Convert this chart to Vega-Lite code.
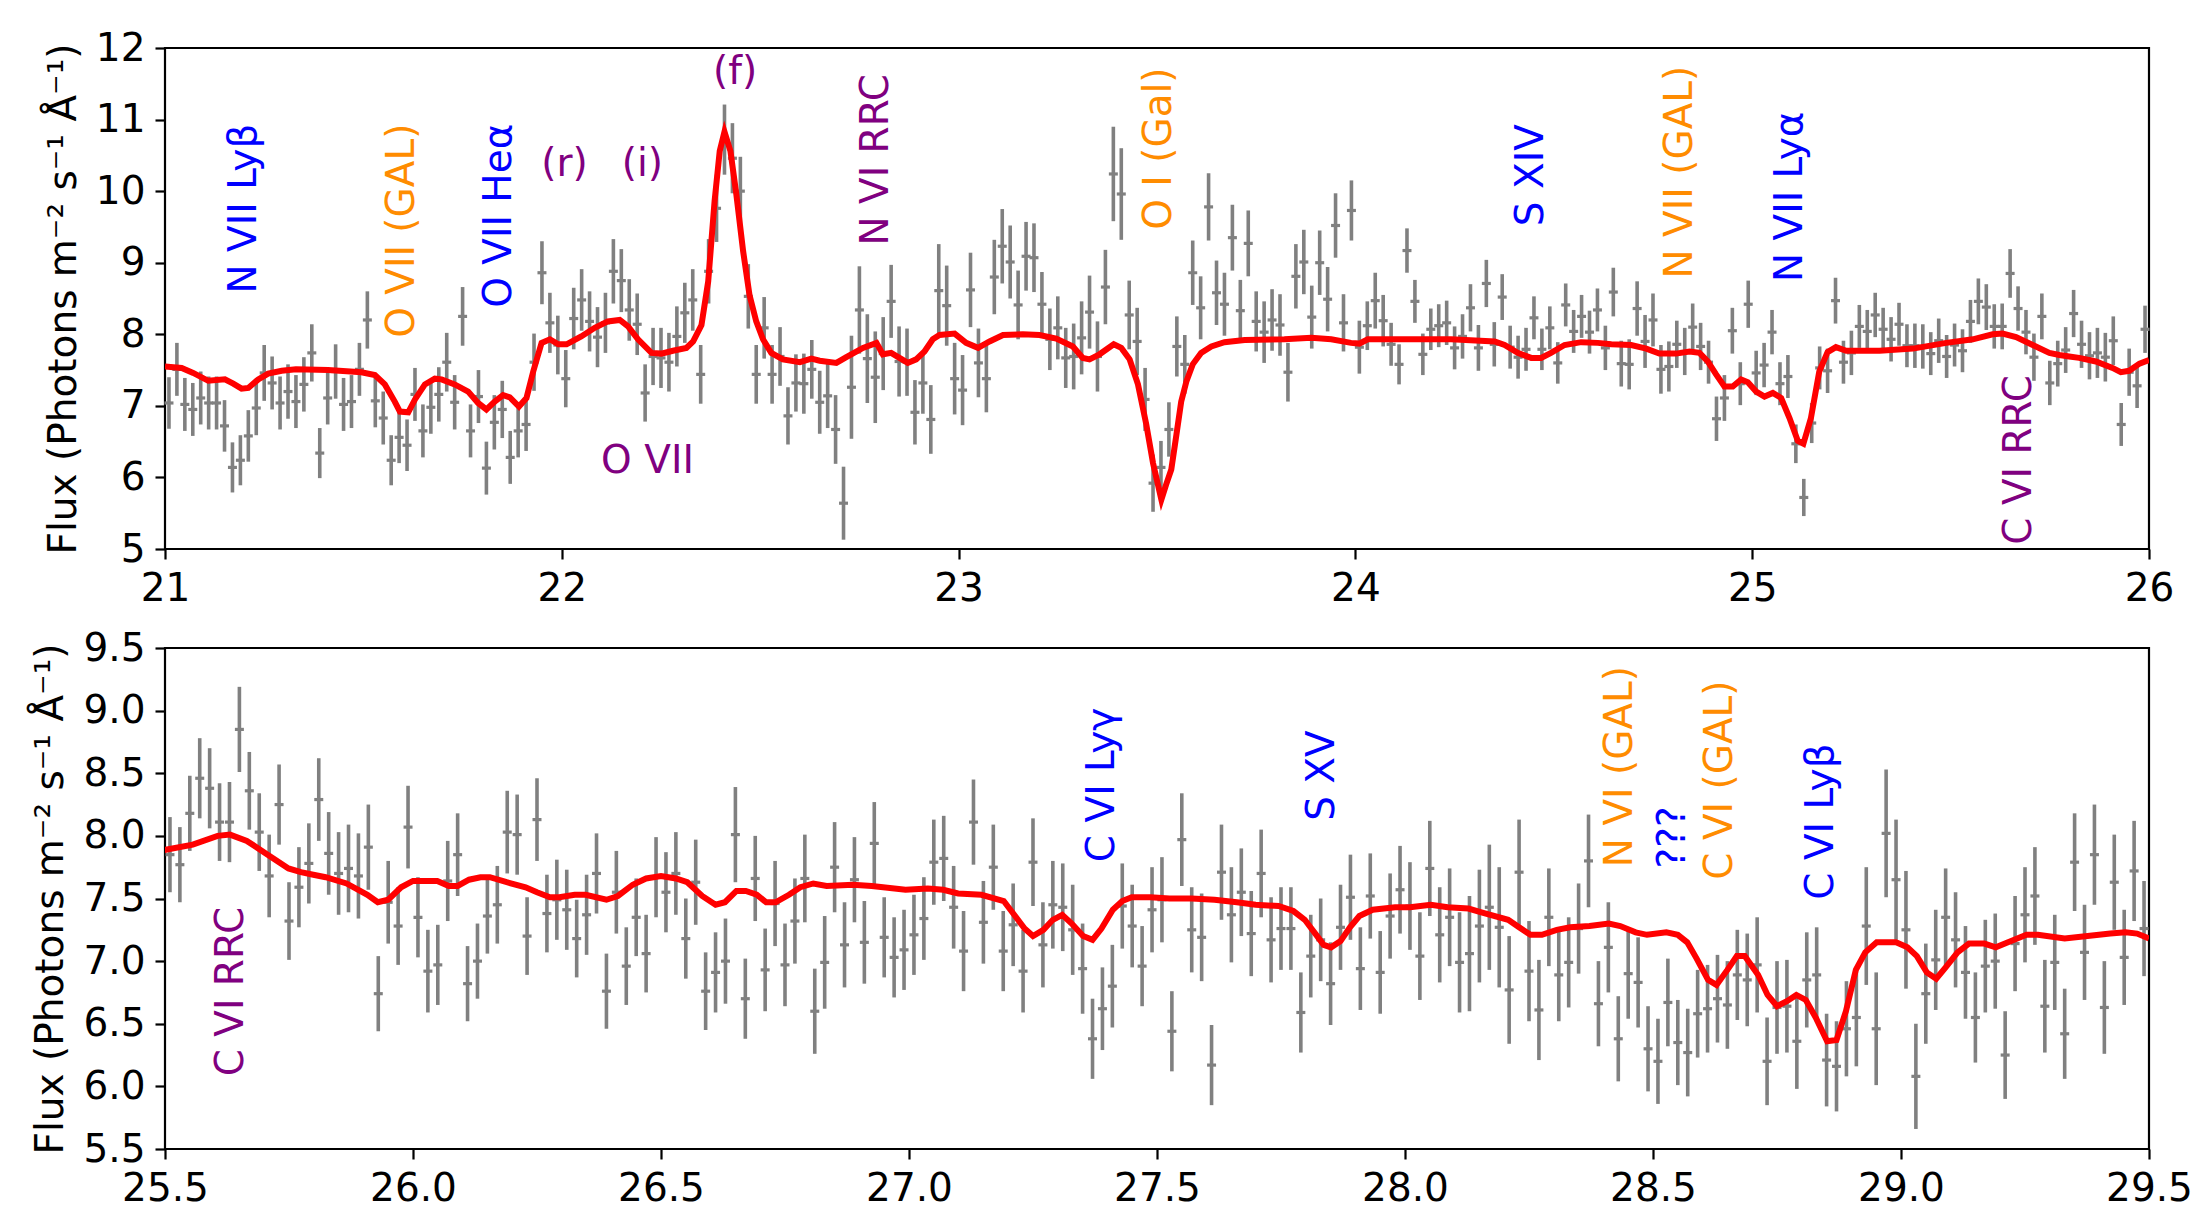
{
  "$schema": "https://vega.github.io/schema/vega-lite/v6.json",
  "background": "white",
  "padding": {"left": 30, "top": 23, "right": 5, "bottom": 5},
  "config": {
    "font": "DejaVu Sans",
    "view": {"stroke": "black", "strokeWidth": 2.2},
    "axis": {
      "grid": false, "domain": false,
      "tickColor": "black", "tickWidth": 2.2, "tickSize": 10,
      "labelFontSize": 39, "labelColor": "black", "labelPadding": 10,
      "labelFlush": false, "labelOverlap": false,
      "titleFontSize": 39, "titleFontWeight": "normal", "titleColor": "black", "titlePadding": 12
    }
  },
  "datasets": {
    "spec": [
      {"w":21.01,"f":7.04,"e":0.36},{"w":21.03,"f":7.51,"e":0.37},{"w":21.05,"f":7.02,"e":0.37},{"w":21.07,"f":6.95,"e":0.37},{"w":21.09,"f":7.11,"e":0.37},
      {"w":21.11,"f":7.04,"e":0.37},{"w":21.13,"f":7.04,"e":0.37},{"w":21.15,"f":6.72,"e":0.36},{"w":21.17,"f":6.14,"e":0.35},{"w":21.19,"f":6.24,"e":0.35},
      {"w":21.21,"f":6.58,"e":0.36},{"w":21.23,"f":6.97,"e":0.38},{"w":21.25,"f":7.46,"e":0.39},{"w":21.27,"f":7.32,"e":0.37},{"w":21.29,"f":7.04,"e":0.37},
      {"w":21.31,"f":7.20,"e":0.38},{"w":21.33,"f":7.06,"e":0.37},{"w":21.35,"f":7.30,"e":0.38},{"w":21.37,"f":7.74,"e":0.40},{"w":21.39,"f":6.34,"e":0.35},
      {"w":21.41,"f":7.11,"e":0.37},{"w":21.43,"f":7.48,"e":0.38},{"w":21.45,"f":7.02,"e":0.37},{"w":21.47,"f":7.06,"e":0.37},{"w":21.49,"f":7.51,"e":0.37},
      {"w":21.51,"f":8.20,"e":0.40},{"w":21.53,"f":7.07,"e":0.37},{"w":21.55,"f":6.83,"e":0.37},{"w":21.57,"f":6.24,"e":0.35},{"w":21.59,"f":6.56,"e":0.36},
      {"w":21.61,"f":6.45,"e":0.36},{"w":21.63,"f":7.16,"e":0.37},{"w":21.65,"f":6.65,"e":0.37},{"w":21.67,"f":6.98,"e":0.37},{"w":21.69,"f":7.16,"e":0.38},
      {"w":21.71,"f":7.61,"e":0.41},{"w":21.73,"f":7.05,"e":0.38},{"w":21.75,"f":8.25,"e":0.41},{"w":21.77,"f":6.65,"e":0.37},{"w":21.79,"f":7.13,"e":0.37},
      {"w":21.81,"f":6.13,"e":0.37},{"w":21.83,"f":6.77,"e":0.38},{"w":21.85,"f":6.95,"e":0.40},{"w":21.87,"f":6.28,"e":0.37},{"w":21.89,"f":6.65,"e":0.37},
      {"w":21.91,"f":6.74,"e":0.37},{"w":21.93,"f":7.61,"e":0.40},{"w":21.95,"f":8.86,"e":0.44},{"w":21.97,"f":8.16,"e":0.42},{"w":21.99,"f":7.85,"e":0.41},
      {"w":22.01,"f":7.38,"e":0.40},{"w":22.03,"f":8.22,"e":0.43},{"w":22.05,"f":8.48,"e":0.43},{"w":22.07,"f":8.18,"e":0.42},{"w":22.09,"f":7.96,"e":0.42},
      {"w":22.11,"f":8.16,"e":0.42},{"w":22.13,"f":8.88,"e":0.45},{"w":22.15,"f":8.75,"e":0.44},{"w":22.17,"f":8.34,"e":0.43},{"w":22.19,"f":8.14,"e":0.43},
      {"w":22.21,"f":7.18,"e":0.40},{"w":22.23,"f":7.69,"e":0.40},{"w":22.25,"f":7.67,"e":0.42},{"w":22.27,"f":7.61,"e":0.41},{"w":22.29,"f":7.97,"e":0.42},
      {"w":22.31,"f":8.30,"e":0.42},{"w":22.33,"f":8.48,"e":0.43},{"w":22.35,"f":7.44,"e":0.41},{"w":22.37,"f":8.88,"e":0.45},{"w":22.39,"f":9.76,"e":0.47},
      {"w":22.41,"f":10.72,"e":0.49},{"w":22.43,"f":10.46,"e":0.49},{"w":22.45,"f":10.00,"e":0.48},{"w":22.47,"f":8.53,"e":0.45},{"w":22.49,"f":7.44,"e":0.41},
      {"w":22.51,"f":8.09,"e":0.43},{"w":22.53,"f":7.44,"e":0.41},{"w":22.55,"f":7.69,"e":0.41},{"w":22.57,"f":6.86,"e":0.40},{"w":22.59,"f":7.32,"e":0.40},
      {"w":22.61,"f":7.31,"e":0.42},{"w":22.63,"f":7.51,"e":0.41},{"w":22.65,"f":7.05,"e":0.44},{"w":22.67,"f":7.14,"e":0.45},{"w":22.69,"f":6.67,"e":0.48},
      {"w":22.71,"f":5.64,"e":0.51},{"w":22.73,"f":7.26,"e":0.72},{"w":22.75,"f":8.34,"e":0.61},{"w":22.77,"f":7.66,"e":0.62},{"w":22.79,"f":7.40,"e":0.64},
      {"w":22.81,"f":7.73,"e":0.51},{"w":22.83,"f":8.46,"e":0.51},{"w":22.85,"f":7.62,"e":0.49},{"w":22.87,"f":7.61,"e":0.47},{"w":22.89,"f":6.91,"e":0.45},
      {"w":22.91,"f":7.32,"e":0.43},{"w":22.93,"f":6.81,"e":0.48},{"w":22.95,"f":8.61,"e":0.65},{"w":22.97,"f":8.40,"e":0.56},{"w":22.99,"f":7.38,"e":0.50},
      {"w":23.01,"f":7.22,"e":0.49},{"w":23.03,"f":8.62,"e":0.52},{"w":23.05,"f":7.60,"e":0.48},{"w":23.07,"f":7.38,"e":0.47},{"w":23.09,"f":8.80,"e":0.52},
      {"w":23.11,"f":9.23,"e":0.52},{"w":23.13,"f":9.01,"e":0.51},{"w":23.15,"f":8.41,"e":0.48},{"w":23.17,"f":9.09,"e":0.48},{"w":23.19,"f":9.07,"e":0.48},
      {"w":23.21,"f":8.42,"e":0.45},{"w":23.23,"f":7.93,"e":0.43},{"w":23.25,"f":8.09,"e":0.44},{"w":23.27,"f":7.67,"e":0.42},{"w":23.29,"f":7.69,"e":0.46},
      {"w":23.31,"f":7.95,"e":0.51},{"w":23.33,"f":8.31,"e":0.51},{"w":23.35,"f":7.69,"e":0.49},{"w":23.37,"f":8.66,"e":0.52},{"w":23.39,"f":10.24,"e":0.66},
      {"w":23.41,"f":9.96,"e":0.64},{"w":23.43,"f":8.27,"e":0.48},{"w":23.45,"f":7.90,"e":0.47},{"w":23.47,"f":7.09,"e":0.44},{"w":23.49,"f":5.92,"e":0.40},
      {"w":23.51,"f":6.14,"e":0.37},{"w":23.53,"f":6.67,"e":0.38},{"w":23.55,"f":7.83,"e":0.42},{"w":23.57,"f":7.58,"e":0.41},{"w":23.59,"f":8.86,"e":0.45},
      {"w":23.61,"f":8.37,"e":0.44},{"w":23.63,"f":9.78,"e":0.47},{"w":23.65,"f":8.58,"e":0.45},{"w":23.67,"f":8.42,"e":0.44},{"w":23.69,"f":9.35,"e":0.46},
      {"w":23.71,"f":8.33,"e":0.43},{"w":23.73,"f":9.27,"e":0.46},{"w":23.75,"f":8.18,"e":0.42},{"w":23.77,"f":8.03,"e":0.43},{"w":23.79,"f":8.20,"e":0.43},
      {"w":23.81,"f":8.13,"e":0.43},{"w":23.83,"f":7.47,"e":0.41},{"w":23.85,"f":8.81,"e":0.45},{"w":23.87,"f":9.01,"e":0.45},{"w":23.89,"f":8.24,"e":0.44},
      {"w":23.91,"f":9.00,"e":0.45},{"w":23.93,"f":8.49,"e":0.45},{"w":23.95,"f":9.52,"e":0.45},{"w":23.97,"f":8.16,"e":0.40},{"w":23.99,"f":9.73,"e":0.42},
      {"w":24.01,"f":7.82,"e":0.37},{"w":24.03,"f":8.12,"e":0.34},{"w":24.05,"f":8.47,"e":0.39},{"w":24.07,"f":8.19,"e":0.36},{"w":24.09,"f":7.86,"e":0.30},
      {"w":24.11,"f":7.58,"e":0.28},{"w":24.13,"f":9.17,"e":0.31},{"w":24.15,"f":8.46,"e":0.30},{"w":24.17,"f":7.72,"e":0.29},{"w":24.19,"f":8.07,"e":0.29},
      {"w":24.21,"f":8.12,"e":0.30},{"w":24.23,"f":8.16,"e":0.31},{"w":24.25,"f":7.81,"e":0.30},{"w":24.27,"f":7.97,"e":0.31},{"w":24.29,"f":8.37,"e":0.33},
      {"w":24.31,"f":7.81,"e":0.32},{"w":24.33,"f":8.71,"e":0.33},{"w":24.35,"f":7.86,"e":0.31},{"w":24.37,"f":8.52,"e":0.32},{"w":24.39,"f":7.82,"e":0.30},
      {"w":24.41,"f":7.68,"e":0.30},{"w":24.43,"f":7.79,"e":0.30},{"w":24.45,"f":8.23,"e":0.30},{"w":24.47,"f":7.79,"e":0.29},{"w":24.49,"f":8.09,"e":0.30},
      {"w":24.51,"f":7.60,"e":0.29},{"w":24.53,"f":8.41,"e":0.30},{"w":24.55,"f":8.04,"e":0.30},{"w":24.57,"f":8.25,"e":0.30},{"w":24.59,"f":8.03,"e":0.30},
      {"w":24.61,"f":8.34,"e":0.30},{"w":24.63,"f":7.81,"e":0.31},{"w":24.65,"f":8.59,"e":0.34},{"w":24.67,"f":7.59,"e":0.32},{"w":24.69,"f":7.58,"e":0.35},
      {"w":24.71,"f":8.36,"e":0.38},{"w":24.73,"f":7.90,"e":0.37},{"w":24.75,"f":8.20,"e":0.37},{"w":24.77,"f":7.51,"e":0.34},{"w":24.79,"f":7.55,"e":0.35},
      {"w":24.81,"f":7.86,"e":0.33},{"w":24.83,"f":7.76,"e":0.33},{"w":24.85,"f":8.10,"e":0.33},{"w":24.87,"f":7.83,"e":0.33},{"w":24.89,"f":7.61,"e":0.30},
      {"w":24.91,"f":6.82,"e":0.31},{"w":24.93,"f":7.11,"e":0.32},{"w":24.95,"f":8.05,"e":0.32},{"w":24.97,"f":7.31,"e":0.30},{"w":24.99,"f":8.42,"e":0.33},
      {"w":25.01,"f":7.46,"e":0.31},{"w":25.03,"f":7.57,"e":0.31},{"w":25.05,"f":8.03,"e":0.31},{"w":25.07,"f":7.31,"e":0.30},{"w":25.09,"f":7.41,"e":0.30},
      {"w":25.11,"f":6.47,"e":0.27},{"w":25.13,"f":5.72,"e":0.26},{"w":25.15,"f":6.76,"e":0.28},{"w":25.17,"f":7.53,"e":0.30},{"w":25.19,"f":7.49,"e":0.31},
      {"w":25.21,"f":8.47,"e":0.32},{"w":25.23,"f":7.61,"e":0.30},{"w":25.25,"f":7.74,"e":0.31},{"w":25.27,"f":8.11,"e":0.30},{"w":25.29,"f":8.04,"e":0.30},
      {"w":25.31,"f":8.27,"e":0.31},{"w":25.33,"f":8.07,"e":0.30},{"w":25.35,"f":7.93,"e":0.31},{"w":25.37,"f":8.14,"e":0.30},{"w":25.39,"f":7.84,"e":0.30},
      {"w":25.41,"f":7.84,"e":0.31},{"w":25.43,"f":7.83,"e":0.31},{"w":25.45,"f":7.73,"e":0.30},{"w":25.47,"f":7.91,"e":0.31},{"w":25.49,"f":7.69,"e":0.30},
      {"w":25.51,"f":7.85,"e":0.30},{"w":25.53,"f":7.77,"e":0.30},{"w":25.55,"f":8.18,"e":0.30},{"w":25.57,"f":8.46,"e":0.32},{"w":25.59,"f":8.38,"e":0.32},
      {"w":25.61,"f":8.11,"e":0.31},{"w":25.63,"f":8.11,"e":0.32},{"w":25.65,"f":8.85,"e":0.34},{"w":25.67,"f":8.36,"e":0.31},{"w":25.69,"f":8.03,"e":0.31},
      {"w":25.71,"f":7.68,"e":0.33},{"w":25.73,"f":8.25,"e":0.32},{"w":25.75,"f":7.32,"e":0.31},{"w":25.77,"f":7.59,"e":0.32},{"w":25.79,"f":7.78,"e":0.32},
      {"w":25.81,"f":8.29,"e":0.33},{"w":25.83,"f":7.86,"e":0.33},{"w":25.85,"f":7.70,"e":0.33},{"w":25.87,"f":7.74,"e":0.35},{"w":25.89,"f":7.68,"e":0.34},
      {"w":25.91,"f":7.91,"e":0.34},{"w":25.93,"f":6.74,"e":0.30},{"w":25.95,"f":7.47,"e":0.33},{"w":25.97,"f":7.28,"e":0.31},{"w":25.99,"f":8.07,"e":0.33},
      {"w":26.01,"f":7.35,"e":0.32},{"w":26.03,"f":6.92,"e":0.33},{"w":26.05,"f":6.97,"e":0.32},{"w":26.07,"f":7.64,"e":0.32},{"w":26.09,"f":7.85,"e":0.33},
      {"w":26.11,"f":6.82,"e":0.30},{"w":26.13,"f":7.00,"e":0.30},{"w":26.15,"f":7.36,"e":0.30},{"w":26.17,"f":7.45,"e":0.31},{"w":26.19,"f":8.03,"e":0.33},
      {"w":26.21,"f":8.01,"e":0.32},{"w":26.23,"f":7.20,"e":0.31},{"w":26.25,"f":8.13,"e":0.33},{"w":26.27,"f":7.38,"e":0.31},{"w":26.29,"f":7.49,"e":0.32},
      {"w":26.31,"f":7.41,"e":0.32},{"w":26.33,"f":7.18,"e":0.31},{"w":26.35,"f":7.37,"e":0.32},{"w":26.37,"f":7.70,"e":0.32},{"w":26.39,"f":6.76,"e":0.30},
      {"w":26.41,"f":7.55,"e":0.33},{"w":26.43,"f":6.96,"e":0.31},{"w":26.45,"f":7.35,"e":0.31},{"w":26.47,"f":7.06,"e":0.31},{"w":26.49,"f":7.67,"e":0.32},
      {"w":26.51,"f":7.55,"e":0.32},{"w":26.53,"f":7.70,"e":0.33},{"w":26.55,"f":7.18,"e":0.32},{"w":26.57,"f":7.63,"e":0.34},{"w":26.59,"f":6.76,"e":0.31},
      {"w":26.61,"f":6.91,"e":0.32},{"w":26.63,"f":7.00,"e":0.34},{"w":26.65,"f":8.01,"e":0.38},{"w":26.67,"f":6.70,"e":0.32},{"w":26.69,"f":7.66,"e":0.34},
      {"w":26.71,"f":6.93,"e":0.33},{"w":26.73,"f":7.46,"e":0.34},{"w":26.75,"f":6.97,"e":0.33},{"w":26.77,"f":7.32,"e":0.34},{"w":26.79,"f":7.66,"e":0.35},
      {"w":26.81,"f":6.60,"e":0.34},{"w":26.83,"f":6.99,"e":0.37},{"w":26.85,"f":7.75,"e":0.36},{"w":26.87,"f":7.13,"e":0.34},{"w":26.89,"f":7.65,"e":0.34},
      {"w":26.91,"f":7.15,"e":0.33},{"w":26.93,"f":7.94,"e":0.33},{"w":26.95,"f":7.19,"e":0.32},{"w":26.97,"f":7.03,"e":0.32},{"w":26.99,"f":7.09,"e":0.32},
      {"w":27.01,"f":7.21,"e":0.32},{"w":27.03,"f":7.34,"e":0.33},{"w":27.05,"f":7.79,"e":0.34},{"w":27.07,"f":7.82,"e":0.34},{"w":27.09,"f":7.43,"e":0.33},
      {"w":27.11,"f":7.08,"e":0.32},{"w":27.13,"f":8.11,"e":0.34},{"w":27.15,"f":7.31,"e":0.33},{"w":27.17,"f":7.75,"e":0.34},{"w":27.19,"f":7.08,"e":0.32},
      {"w":27.21,"f":7.29,"e":0.33},{"w":27.23,"f":6.92,"e":0.33},{"w":27.25,"f":7.79,"e":0.35},{"w":27.27,"f":7.13,"e":0.34},{"w":27.29,"f":7.45,"e":0.35},
      {"w":27.31,"f":7.43,"e":0.35},{"w":27.33,"f":7.25,"e":0.36},{"w":27.35,"f":6.94,"e":0.36},{"w":27.37,"f":6.38,"e":0.32},{"w":27.39,"f":6.62,"e":0.33},
      {"w":27.41,"f":6.80,"e":0.33},{"w":27.43,"f":7.44,"e":0.34},{"w":27.45,"f":7.28,"e":0.33},{"w":27.47,"f":6.96,"e":0.32},{"w":27.49,"f":7.41,"e":0.34},
      {"w":27.51,"f":7.49,"e":0.34},{"w":27.53,"f":6.44,"e":0.32},{"w":27.55,"f":7.97,"e":0.37},{"w":27.57,"f":7.25,"e":0.34},{"w":27.59,"f":7.19,"e":0.35},
      {"w":27.61,"f":6.17,"e":0.32},{"w":27.63,"f":7.71,"e":0.38},{"w":27.65,"f":7.37,"e":0.38},{"w":27.67,"f":7.55,"e":0.35},{"w":27.69,"f":7.22,"e":0.34},
      {"w":27.71,"f":7.70,"e":0.35},{"w":27.73,"f":7.17,"e":0.34},{"w":27.75,"f":7.26,"e":0.33},{"w":27.77,"f":7.26,"e":0.33},{"w":27.79,"f":6.59,"e":0.32},
      {"w":27.81,"f":7.04,"e":0.33},{"w":27.83,"f":7.17,"e":0.33},{"w":27.85,"f":6.82,"e":0.33},{"w":27.87,"f":7.27,"e":0.34},{"w":27.89,"f":7.51,"e":0.34},
      {"w":27.91,"f":6.94,"e":0.33},{"w":27.93,"f":7.52,"e":0.34},{"w":27.95,"f":6.91,"e":0.33},{"w":27.97,"f":7.36,"e":0.34},{"w":27.99,"f":7.57,"e":0.35},
      {"w":28.01,"f":7.44,"e":0.35},{"w":28.03,"f":7.04,"e":0.35},{"w":28.05,"f":7.74,"e":0.38},{"w":28.07,"f":7.21,"e":0.38},{"w":28.09,"f":7.35,"e":0.39},
      {"w":28.11,"f":6.99,"e":0.40},{"w":28.13,"f":7.06,"e":0.46},{"w":28.15,"f":7.28,"e":0.45},{"w":28.17,"f":7.43,"e":0.50},{"w":28.19,"f":7.27,"e":0.48},
      {"w":28.21,"f":6.77,"e":0.43},{"w":28.23,"f":7.71,"e":0.42},{"w":28.25,"f":6.92,"e":0.40},{"w":28.27,"f":6.61,"e":0.40},{"w":28.29,"f":7.35,"e":0.39},
      {"w":28.31,"f":6.89,"e":0.37},{"w":28.33,"f":6.99,"e":0.36},{"w":28.35,"f":7.26,"e":0.36},{"w":28.37,"f":7.80,"e":0.37},{"w":28.39,"f":6.66,"e":0.34},
      {"w":28.41,"f":7.11,"e":0.36},{"w":28.43,"f":6.38,"e":0.34},{"w":28.45,"f":6.90,"e":0.36},{"w":28.47,"f":6.83,"e":0.36},{"w":28.49,"f":6.30,"e":0.34},
      {"w":28.51,"f":6.20,"e":0.34},{"w":28.53,"f":6.67,"e":0.35},{"w":28.55,"f":6.35,"e":0.34},{"w":28.57,"f":6.27,"e":0.35},{"w":28.59,"f":6.58,"e":0.35},
      {"w":28.61,"f":6.62,"e":0.35},{"w":28.63,"f":6.70,"e":0.35},{"w":28.65,"f":6.65,"e":0.35},{"w":28.67,"f":6.89,"e":0.36},{"w":28.69,"f":6.85,"e":0.37},
      {"w":28.71,"f":6.97,"e":0.38},{"w":28.73,"f":6.20,"e":0.35},{"w":28.75,"f":6.63,"e":0.37},{"w":28.77,"f":6.64,"e":0.37},{"w":28.79,"f":6.36,"e":0.38},
      {"w":28.81,"f":6.85,"e":0.38},{"w":28.83,"f":6.89,"e":0.38},{"w":28.85,"f":6.21,"e":0.37},{"w":28.87,"f":6.16,"e":0.36},{"w":28.89,"f":6.46,"e":0.38},
      {"w":28.91,"f":6.55,"e":0.39},{"w":28.93,"f":7.28,"e":0.47},{"w":28.95,"f":6.46,"e":0.45},{"w":28.97,"f":8.02,"e":0.51},{"w":28.99,"f":7.65,"e":0.48},
      {"w":29.01,"f":7.25,"e":0.47},{"w":29.03,"f":6.08,"e":0.42},{"w":29.05,"f":6.74,"e":0.40},{"w":29.07,"f":7.01,"e":0.40},{"w":29.09,"f":7.35,"e":0.39},
      {"w":29.11,"f":7.17,"e":0.38},{"w":29.13,"f":6.91,"e":0.37},{"w":29.15,"f":6.55,"e":0.36},{"w":29.17,"f":6.96,"e":0.37},{"w":29.19,"f":7.00,"e":0.38},
      {"w":29.21,"f":6.25,"e":0.35},{"w":29.23,"f":7.14,"e":0.38},{"w":29.25,"f":7.37,"e":0.38},{"w":29.27,"f":7.52,"e":0.39},{"w":29.29,"f":6.64,"e":0.37},
      {"w":29.31,"f":6.99,"e":0.38},{"w":29.33,"f":6.42,"e":0.36},{"w":29.35,"f":7.79,"e":0.39},{"w":29.37,"f":7.07,"e":0.38},{"w":29.39,"f":7.85,"e":0.40},
      {"w":29.41,"f":6.63,"e":0.37},{"w":29.43,"f":7.63,"e":0.38},{"w":29.45,"f":7.03,"e":0.38},{"w":29.47,"f":7.72,"e":0.40},{"w":29.49,"f":7.26,"e":0.38}
    ],
    "model": [
      {"w":21.0,"f":7.55},{"w":21.042,"f":7.53},{"w":21.071,"f":7.46},{"w":21.109,"f":7.35},{"w":21.151,"f":7.37},{"w":21.172,"f":7.31},
      {"w":21.193,"f":7.24},{"w":21.21,"f":7.25},{"w":21.235,"f":7.37},{"w":21.26,"f":7.45},{"w":21.294,"f":7.49},{"w":21.33,"f":7.51},
      {"w":21.411,"f":7.5},{"w":21.495,"f":7.47},{"w":21.529,"f":7.43},{"w":21.554,"f":7.3},{"w":21.579,"f":7.06},{"w":21.592,"f":6.92},
      {"w":21.613,"f":6.91},{"w":21.63,"f":7.09},{"w":21.655,"f":7.3},{"w":21.68,"f":7.38},{"w":21.697,"f":7.37},{"w":21.73,"f":7.3},
      {"w":21.764,"f":7.2},{"w":21.789,"f":7.04},{"w":21.81,"f":6.95},{"w":21.831,"f":7.06},{"w":21.852,"f":7.15},{"w":21.869,"f":7.12},
      {"w":21.892,"f":6.99},{"w":21.911,"f":7.11},{"w":21.928,"f":7.48},{"w":21.949,"f":7.88},{"w":21.97,"f":7.93},{"w":21.991,"f":7.86},
      {"w":22.012,"f":7.86},{"w":22.049,"f":7.97},{"w":22.083,"f":8.09},{"w":22.116,"f":8.18},{"w":22.146,"f":8.2},{"w":22.167,"f":8.11},
      {"w":22.192,"f":7.93},{"w":22.226,"f":7.74},{"w":22.251,"f":7.73},{"w":22.28,"f":7.77},{"w":22.314,"f":7.81},{"w":22.331,"f":7.9},
      {"w":22.352,"f":8.13},{"w":22.369,"f":8.74},{"w":22.385,"f":9.86},{"w":22.398,"f":10.56},{"w":22.41,"f":10.83},{"w":22.425,"f":10.56},
      {"w":22.44,"f":9.95},{"w":22.457,"f":9.16},{"w":22.473,"f":8.55},{"w":22.49,"f":8.18},{"w":22.507,"f":7.93},{"w":22.528,"f":7.74},
      {"w":22.557,"f":7.65},{"w":22.6,"f":7.61},{"w":22.629,"f":7.66},{"w":22.65,"f":7.63},{"w":22.692,"f":7.6},{"w":22.717,"f":7.68},
      {"w":22.759,"f":7.81},{"w":22.793,"f":7.88},{"w":22.809,"f":7.72},{"w":22.83,"f":7.74},{"w":22.851,"f":7.67},{"w":22.872,"f":7.6},
      {"w":22.893,"f":7.65},{"w":22.914,"f":7.76},{"w":22.935,"f":7.93},{"w":22.952,"f":7.99},{"w":22.99,"f":8.01},{"w":23.019,"f":7.88},
      {"w":23.049,"f":7.81},{"w":23.078,"f":7.9},{"w":23.112,"f":7.99},{"w":23.162,"f":8.0},{"w":23.204,"f":7.99},{"w":23.246,"f":7.94},
      {"w":23.288,"f":7.83},{"w":23.313,"f":7.67},{"w":23.33,"f":7.65},{"w":23.355,"f":7.72},{"w":23.391,"f":7.86},{"w":23.41,"f":7.81},
      {"w":23.431,"f":7.65},{"w":23.452,"f":7.3},{"w":23.473,"f":6.74},{"w":23.49,"f":6.2},{"w":23.511,"f":5.69},{"w":23.523,"f":5.9},
      {"w":23.536,"f":6.11},{"w":23.549,"f":6.6},{"w":23.561,"f":7.06},{"w":23.574,"f":7.34},{"w":23.59,"f":7.58},{"w":23.611,"f":7.74},
      {"w":23.637,"f":7.83},{"w":23.67,"f":7.89},{"w":23.721,"f":7.92},{"w":23.821,"f":7.93},{"w":23.889,"f":7.95},{"w":23.939,"f":7.93},
      {"w":23.989,"f":7.88},{"w":24.01,"f":7.87},{"w":24.031,"f":7.93},{"w":24.115,"f":7.93},{"w":24.241,"f":7.93},{"w":24.351,"f":7.9},
      {"w":24.376,"f":7.85},{"w":24.409,"f":7.74},{"w":24.443,"f":7.67},{"w":24.468,"f":7.67},{"w":24.493,"f":7.74},{"w":24.527,"f":7.85},
      {"w":24.569,"f":7.89},{"w":24.611,"f":7.88},{"w":24.645,"f":7.86},{"w":24.695,"f":7.85},{"w":24.733,"f":7.8},{"w":24.766,"f":7.73},
      {"w":24.808,"f":7.73},{"w":24.842,"f":7.76},{"w":24.867,"f":7.74},{"w":24.888,"f":7.62},{"w":24.909,"f":7.44},{"w":24.93,"f":7.27},
      {"w":24.951,"f":7.27},{"w":24.972,"f":7.37},{"w":24.989,"f":7.33},{"w":25.01,"f":7.2},{"w":25.031,"f":7.13},{"w":25.052,"f":7.18},
      {"w":25.073,"f":7.11},{"w":25.094,"f":6.83},{"w":25.115,"f":6.51},{"w":25.129,"f":6.47},{"w":25.148,"f":6.83},{"w":25.169,"f":7.48},
      {"w":25.19,"f":7.75},{"w":25.211,"f":7.82},{"w":25.237,"f":7.77},{"w":25.321,"f":7.77},{"w":25.405,"f":7.8},{"w":25.489,"f":7.88},
      {"w":25.556,"f":7.93},{"w":25.606,"f":8.0},{"w":25.631,"f":8.01},{"w":25.665,"f":7.96},{"w":25.707,"f":7.85},{"w":25.749,"f":7.74},
      {"w":25.774,"f":7.71},{"w":25.799,"f":7.69},{"w":25.824,"f":7.67},{"w":25.866,"f":7.62},{"w":25.908,"f":7.53},{"w":25.929,"f":7.47},
      {"w":25.95,"f":7.49},{"w":25.976,"f":7.59},{"w":26.0,"f":7.64},{"w":26.03,"f":7.64},{"w":26.049,"f":7.64},{"w":26.072,"f":7.6},
      {"w":26.09,"f":7.6},{"w":26.113,"f":7.65},{"w":26.136,"f":7.67},{"w":26.155,"f":7.67},{"w":26.189,"f":7.63},{"w":26.227,"f":7.59},
      {"w":26.25,"f":7.55},{"w":26.276,"f":7.51},{"w":26.295,"f":7.51},{"w":26.326,"f":7.53},{"w":26.348,"f":7.53},{"w":26.39,"f":7.49},
      {"w":26.413,"f":7.52},{"w":26.443,"f":7.61},{"w":26.47,"f":7.66},{"w":26.5,"f":7.68},{"w":26.53,"f":7.66},{"w":26.553,"f":7.63},
      {"w":26.583,"f":7.52},{"w":26.61,"f":7.45},{"w":26.629,"f":7.47},{"w":26.652,"f":7.56},{"w":26.671,"f":7.56},{"w":26.693,"f":7.53},
      {"w":26.712,"f":7.47},{"w":26.731,"f":7.47},{"w":26.758,"f":7.53},{"w":26.781,"f":7.59},{"w":26.807,"f":7.62},{"w":26.834,"f":7.6},
      {"w":26.887,"f":7.61},{"w":26.925,"f":7.6},{"w":26.993,"f":7.57},{"w":27.038,"f":7.58},{"w":27.069,"f":7.57},{"w":27.099,"f":7.54},
      {"w":27.146,"f":7.53},{"w":27.191,"f":7.48},{"w":27.214,"f":7.36},{"w":27.233,"f":7.26},{"w":27.25,"f":7.2},{"w":27.271,"f":7.25},
      {"w":27.29,"f":7.33},{"w":27.309,"f":7.37},{"w":27.328,"f":7.3},{"w":27.351,"f":7.2},{"w":27.37,"f":7.17},{"w":27.388,"f":7.26},
      {"w":27.411,"f":7.41},{"w":27.43,"f":7.48},{"w":27.449,"f":7.51},{"w":27.487,"f":7.51},{"w":27.525,"f":7.5},{"w":27.57,"f":7.5},
      {"w":27.616,"f":7.49},{"w":27.661,"f":7.47},{"w":27.699,"f":7.45},{"w":27.745,"f":7.44},{"w":27.775,"f":7.4},{"w":27.798,"f":7.33},
      {"w":27.821,"f":7.21},{"w":27.836,"f":7.13},{"w":27.851,"f":7.11},{"w":27.87,"f":7.16},{"w":27.889,"f":7.27},{"w":27.908,"f":7.36},
      {"w":27.935,"f":7.41},{"w":27.98,"f":7.43},{"w":28.01,"f":7.43},{"w":28.052,"f":7.45},{"w":28.086,"f":7.43},{"w":28.128,"f":7.42},
      {"w":28.154,"f":7.39},{"w":28.208,"f":7.33},{"w":28.23,"f":7.27},{"w":28.253,"f":7.21},{"w":28.276,"f":7.21},{"w":28.306,"f":7.25},
      {"w":28.333,"f":7.27},{"w":28.372,"f":7.28},{"w":28.411,"f":7.3},{"w":28.434,"f":7.28},{"w":28.465,"f":7.23},{"w":28.488,"f":7.21},
      {"w":28.527,"f":7.23},{"w":28.55,"f":7.21},{"w":28.569,"f":7.15},{"w":28.588,"f":7.02},{"w":28.611,"f":6.85},{"w":28.628,"f":6.81},
      {"w":28.65,"f":6.93},{"w":28.669,"f":7.04},{"w":28.685,"f":7.04},{"w":28.712,"f":6.89},{"w":28.731,"f":6.73},{"w":28.75,"f":6.64},
      {"w":28.77,"f":6.68},{"w":28.789,"f":6.73},{"w":28.808,"f":6.69},{"w":28.828,"f":6.55},{"w":28.851,"f":6.36},{"w":28.87,"f":6.37},
      {"w":28.889,"f":6.6},{"w":28.909,"f":6.93},{"w":28.928,"f":7.07},{"w":28.951,"f":7.15},{"w":28.99,"f":7.15},{"w":29.013,"f":7.11},
      {"w":29.032,"f":7.04},{"w":29.052,"f":6.91},{"w":29.071,"f":6.86},{"w":29.09,"f":6.95},{"w":29.114,"f":7.07},{"w":29.137,"f":7.14},
      {"w":29.168,"f":7.14},{"w":29.191,"f":7.11},{"w":29.222,"f":7.16},{"w":29.253,"f":7.21},{"w":29.276,"f":7.21},{"w":29.33,"f":7.18},
      {"w":29.376,"f":7.2},{"w":29.422,"f":7.22},{"w":29.453,"f":7.23},{"w":29.476,"f":7.22},{"w":29.5,"f":7.18}
    ],
    "labels": [
      {"p":1,"r":1,"w":21.2,"f":8.57,"t":"N VII Lyβ","c":"#0000ff"},
      {"p":1,"r":1,"w":21.597,"f":7.95,"t":"O VII (GAL)","c":"#ff8c00"},
      {"p":1,"r":1,"w":21.842,"f":8.37,"t":"O VII Heα","c":"#0000ff"},
      {"p":1,"r":0,"w":22.007,"f":10.38,"t":"(r)","c":"#800080"},
      {"p":1,"r":0,"w":22.203,"f":10.38,"t":"(i)","c":"#800080"},
      {"p":1,"r":0,"w":22.437,"f":11.66,"t":"(f)","c":"#800080"},
      {"p":1,"r":0,"w":22.216,"f":6.225,"t":"O VII","c":"#800080"},
      {"p":1,"r":1,"w":22.792,"f":9.24,"t":"N VI RRC","c":"#800080"},
      {"p":1,"r":1,"w":23.506,"f":9.46,"t":"O I (Gal)","c":"#ff8c00"},
      {"p":1,"r":1,"w":24.442,"f":9.51,"t":"S XIV","c":"#0000ff"},
      {"p":1,"r":1,"w":24.818,"f":8.78,"t":"N VII (GAL)","c":"#ff8c00"},
      {"p":1,"r":1,"w":25.095,"f":8.73,"t":"N VII Lyα","c":"#0000ff"},
      {"p":1,"r":1,"w":25.672,"f":5.06,"t":"C VI RRC","c":"#800080"},
      {"p":2,"r":1,"w":25.633,"f":6.08,"t":"C VI RRC","c":"#800080"},
      {"p":2,"r":1,"w":27.389,"f":7.79,"t":"C VI Lyγ","c":"#0000ff"},
      {"p":2,"r":1,"w":27.832,"f":8.12,"t":"S XV","c":"#0000ff"},
      {"p":2,"r":1,"w":28.434,"f":7.75,"t":"N VI (GAL)","c":"#ff8c00"},
      {"p":2,"r":1,"w":28.54,"f":7.74,"t":"???","c":"#0000ff"},
      {"p":2,"r":1,"w":28.635,"f":7.65,"t":"C VI (GAL)","c":"#ff8c00"},
      {"p":2,"r":1,"w":28.839,"f":7.49,"t":"C VI Lyβ","c":"#0000ff"}
    ]
  },
  "bounds": "flush",
  "spacing": 99,
  "vconcat": [
    {
      "width": 1984,
      "height": 501,
      "encoding": {
        "x": {"field": "w", "type": "quantitative", "scale": {"domain": [21, 26], "nice": false, "zero": false},
              "axis": {"values": [21, 22, 23, 24, 25, 26], "format": "d", "title": null}},
        "y": {"field": "f", "type": "quantitative", "scale": {"domain": [5, 12], "nice": false, "zero": false},
              "axis": {"values": [5, 6, 7, 8, 9, 10, 11, 12], "format": "d", "title": "Flux (Photons  m⁻²  s⁻¹  Å⁻¹)"}}
      },
      "layer": [
        {"data": {"name": "spec"}, "transform": [{"filter": "datum.w < 26"}],
         "mark": {"type": "errorbar", "color": "#808080", "thickness": 3.6, "rule": {"strokeWidth": 3.6}},
         "encoding": {"yError": {"field": "e"}}},
        {"data": {"name": "spec"}, "transform": [{"filter": "datum.w < 26"}],
         "mark": {"type": "tick", "orient": "horizontal", "color": "#808080", "size": 9, "thickness": 3.2, "opacity": 1}},
        {"data": {"name": "model"}, "transform": [{"filter": "datum.w <= 26.01"}],
         "mark": {"type": "line", "color": "#ff0000", "strokeWidth": 6, "clip": true}},
        {"data": {"name": "labels"}, "transform": [{"filter": "datum.p == 1 && datum.r == 1"}],
         "mark": {"type": "text", "angle": 270, "align": "left", "baseline": "middle", "fontSize": 39},
         "encoding": {"text": {"field": "t"}, "color": {"field": "c", "type": "nominal", "scale": null}}},
        {"data": {"name": "labels"}, "transform": [{"filter": "datum.p == 1 && datum.r == 0"}],
         "mark": {"type": "text", "align": "center", "baseline": "middle", "fontSize": 39},
         "encoding": {"text": {"field": "t"}, "color": {"field": "c", "type": "nominal", "scale": null}}}
      ]
    },
    {
      "width": 1984,
      "height": 501,
      "encoding": {
        "x": {"field": "w", "type": "quantitative", "scale": {"domain": [25.5, 29.5], "nice": false, "zero": false},
              "axis": {"values": [25.5, 26, 26.5, 27, 27.5, 28, 28.5, 29, 29.5], "format": ".1f", "title": null}},
        "y": {"field": "f", "type": "quantitative", "scale": {"domain": [5.5, 9.5], "nice": false, "zero": false},
              "axis": {"values": [5.5, 6, 6.5, 7, 7.5, 8, 8.5, 9, 9.5], "format": ".1f", "title": "Flux (Photons  m⁻²  s⁻¹  Å⁻¹)"}}
      },
      "layer": [
        {"data": {"name": "spec"}, "transform": [{"filter": "datum.w > 25.5"}],
         "mark": {"type": "errorbar", "color": "#808080", "thickness": 3.6, "rule": {"strokeWidth": 3.6}},
         "encoding": {"yError": {"field": "e"}}},
        {"data": {"name": "spec"}, "transform": [{"filter": "datum.w > 25.5"}],
         "mark": {"type": "tick", "orient": "horizontal", "color": "#808080", "size": 9, "thickness": 3.2, "opacity": 1}},
        {"data": {"name": "model"}, "transform": [{"filter": "datum.w >= 25.48"}],
         "mark": {"type": "line", "color": "#ff0000", "strokeWidth": 6, "clip": true}},
        {"data": {"name": "labels"}, "transform": [{"filter": "datum.p == 2"}],
         "mark": {"type": "text", "angle": 270, "align": "left", "baseline": "middle", "fontSize": 39},
         "encoding": {"text": {"field": "t"}, "color": {"field": "c", "type": "nominal", "scale": null}}}
      ]
    }
  ]
}
